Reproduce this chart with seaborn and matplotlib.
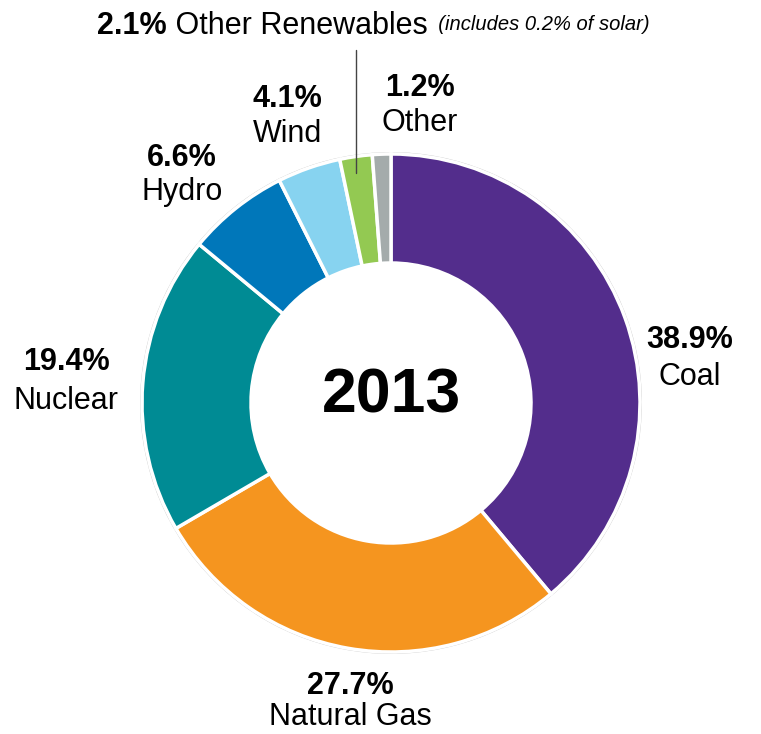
import matplotlib
matplotlib.use("Agg")
import matplotlib.pyplot as plt
import seaborn as sns

# 2013 electricity generation shares
sources = ["Coal", "Natural Gas", "Nuclear", "Hydro", "Wind", "Other Renewables", "Other"]
shares = [38.9, 27.7, 19.4, 6.6, 4.1, 2.1, 1.2]
colors = ["#532D8C", "#F5951F", "#008B94", "#0077BA", "#87D3F0", "#93C952", "#A4ABAB"]
year = "2013"

sns.set_theme(style="white")
plt.rcParams["font.family"] = ["Liberation Sans", "DejaVu Sans"]
plt.rcParams["text.color"] = "black"

W, H = 761, 734
fig = plt.figure(figsize=(W / 100, H / 100), dpi=100)
ax = fig.add_axes([0, 0, 1, 1])

cx, cy, R = 391, 403, 249

# faint outline around the ring
outline = plt.Circle((cx, cy), R + 1.5, fill=False, color="#C8C8C8", lw=0.6)
ax.add_patch(outline)

# y axis is inverted, so counterclock=True draws clockwise on screen
ax.pie(
    shares,
    colors=colors,
    startangle=-90,
    counterclock=True,
    center=(cx, cy),
    radius=R,
    frame=True,
    wedgeprops=dict(width=109, edgecolor="white", linewidth=2.5),
)
ax.set_xlim(0, W)
ax.set_ylim(H, 0)
ax.set_aspect("auto")
ax.axis("off")

ax.text(cx, 396, year, ha="center", va="center", fontsize=45, fontweight="bold")

big = 22
labels = [
    # (pct, name, x, y_pct, y_name)
    ("38.9%", "Coal", 690, 340, 377),
    ("27.7%", "Natural Gas", 350, 686, 717),
    ("19.4%", "Nuclear", 66, 362, 401),
    ("6.6%", "Hydro", 182, 158, 192),
    ("4.1%", "Wind", 287, 99, 134),
    ("1.2%", "Other", 420, 88, 123),
]
for pct, name, x, yp, yn in labels:
    ax.text(x, yp, pct, ha="center", va="center", fontsize=big, fontweight="bold")
    ax.text(x, yn, name, ha="center", va="center", fontsize=big)

# other renewables label on one line, pieces chained by measured width
fig.canvas.draw()
r = fig.canvas.get_renderer()
inv = ax.transData.inverted()
x0, ytop = 97, 22
parts = [
    ("2.1%", dict(fontsize=big, fontweight="bold")),
    (" Other Renewables", dict(fontsize=big)),
    ("  (includes 0.2% of solar)", dict(fontsize=14.5, style="italic")),
]
x = x0
for s, kw in parts:
    t = ax.text(x, ytop, s, ha="left", va="center_baseline", **kw)
    bb = t.get_window_extent(renderer=r)
    x = inv.transform((bb.x1, bb.y0))[0]

ax.plot([356, 356], [50, 173], color="#444444", lw=1.0)

fig.savefig("out.png", dpi=100)
